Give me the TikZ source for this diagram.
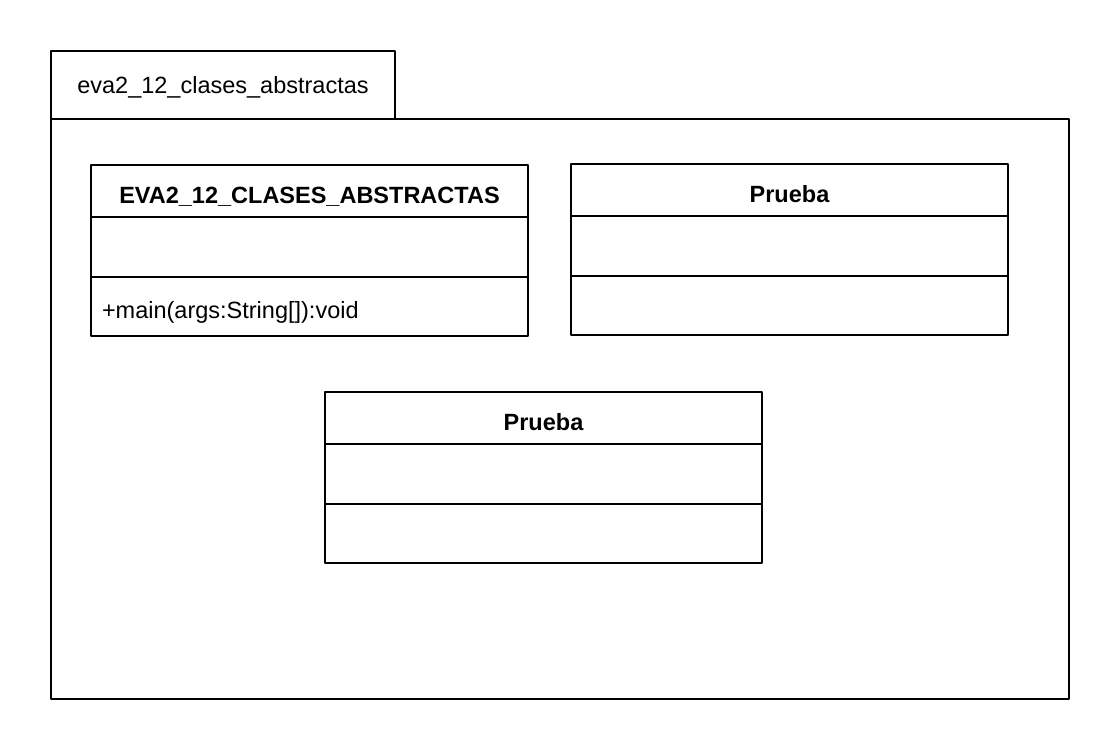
\documentclass[tikz,border=0pt]{standalone}
\usepackage{fontspec}
\setmainfont{Liberation Sans}
\usetikzlibrary{positioning}
\tikzset{
  pkg/.style={draw, line width=2pt, inner sep=0pt, outer sep=0pt},
  pkgtab/.style={pkg, minimum width=344pt, minimum height=68pt, text height=18pt, text depth=1pt, font=\fontsize{23.5}{28}\selectfont},
  cls/.style={draw, line width=2pt, minimum width=437pt, inner sep=0pt, outer sep=0pt, text height=25pt, text depth=1pt, font=\fontsize{23.5}{28}\selectfont},
  clshead/.style={cls, minimum height=52pt, font=\fontsize{23.5}{28}\selectfont\bfseries},
  clsattr/.style={cls, minimum height=60pt},
  clsops/.style={cls, minimum height=59pt, text width=415pt, inner xsep=11pt, align=left},
  every picture/.style={line cap=round, line join=round}
}

\begin{document}
\begin{tikzpicture}[x=1pt, y=-1pt]
  \useasboundingbox (0,0) rectangle (1120,750);

  % Package
  \node[pkgtab, anchor=north west] (tab) at (51,51) {eva2\_12\_clases\_abstractas};
  \node[pkg, minimum width=1018pt, minimum height=580pt, below right=0pt and 0pt of tab.south west] (body) {};

  % Main class
  \node[clshead, anchor=north west] (h1) at (91,165) {EVA2\_12\_CLASES\_ABSTRACTAS};
  \node[clsattr, below=0pt of h1] (a1) {};
  \node[clsops, below=0pt of a1] (o1) {+main(args:String[]):void};

  % Prueba (right)
  \node[clshead, anchor=north west] (h2) at (571,164) {Prueba};
  \node[clsattr, below=0pt of h2] (a2) {};
  \node[clsops, below=0pt of a2] (o2) {};

  % Prueba (bottom)
  \node[clshead, anchor=north west] (h3) at (325,392) {Prueba};
  \node[clsattr, below=0pt of h3] (a3) {};
  \node[clsops, below=0pt of a3] (o3) {};
\end{tikzpicture}
\end{document}
